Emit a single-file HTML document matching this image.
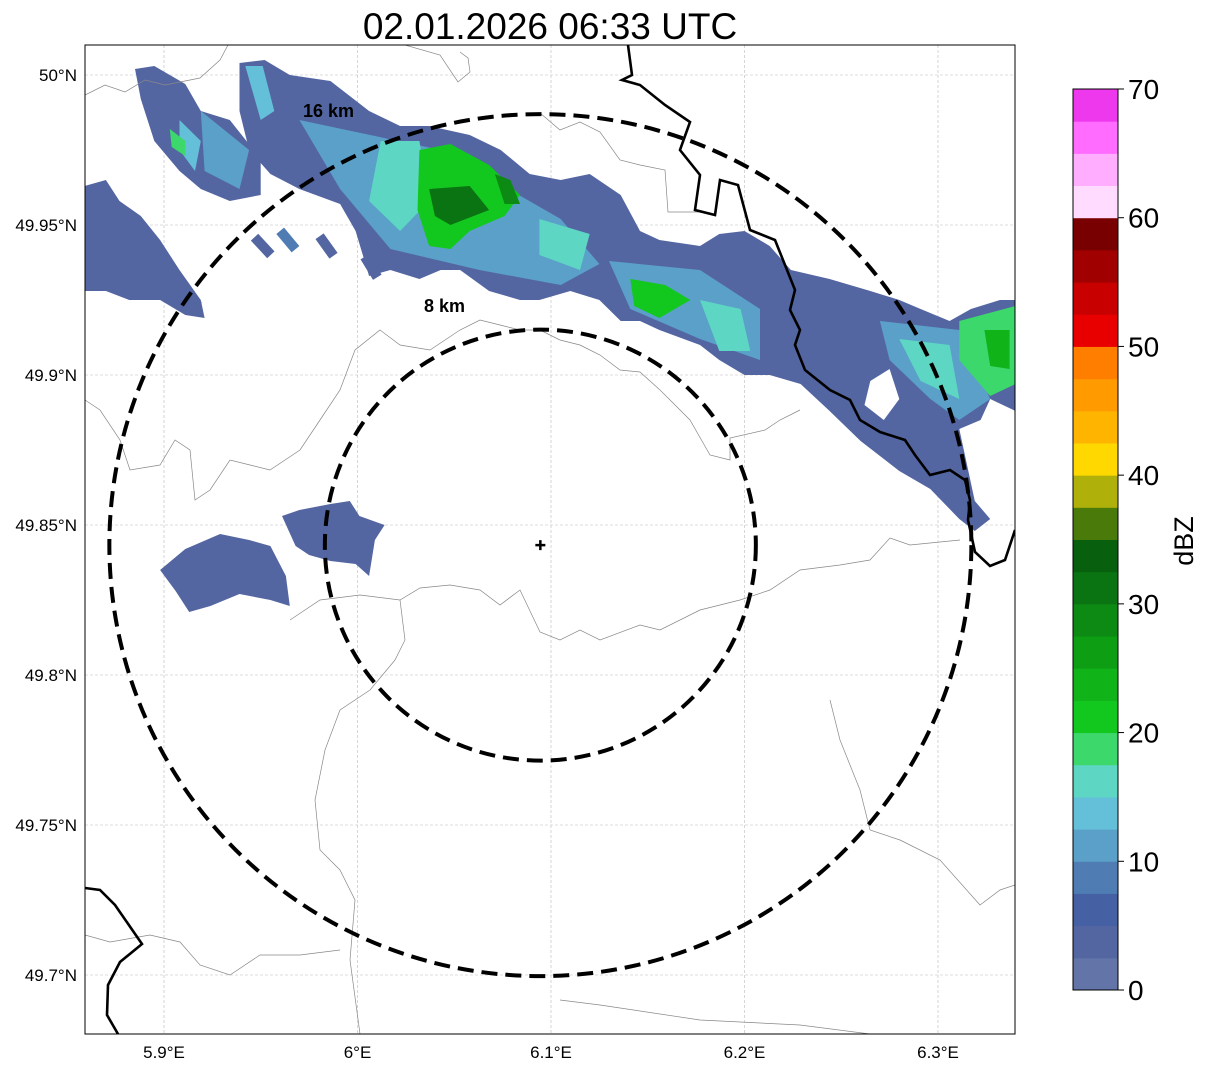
<!DOCTYPE html>
<html><head><meta charset="utf-8">
<style>
html,body{margin:0;padding:0;background:#fff;}
svg{display:block;font-family:"Liberation Sans","DejaVu Sans",sans-serif;}
</style></head>
<body>
<svg id="chart" width="1207" height="1069" viewBox="0 0 1207 1069" xmlns="http://www.w3.org/2000/svg">
<text x="550" y="39" font-size="37" text-anchor="middle" fill="#000">02.01.2026 06:33 UTC</text>
<defs><clipPath id="mapclip"><rect x="85" y="45" width="930" height="989"/></clipPath></defs>
<g id="grid"></g>
<g id="echoes" clip-path="url(#mapclip)"></g>
<g id="geo" clip-path="url(#mapclip)"></g>
<g id="rings"></g>
<rect x="85" y="45" width="930" height="989" fill="none" stroke="#000" stroke-width="1"/>
<g id="xt"></g>
<g id="yt"></g>
<g id="cbar"></g>
<text x="1193" y="541" font-size="27" text-anchor="middle" transform="rotate(-90 1193 541)">dBZ</text>
</svg>
<script>
const NS="http://www.w3.org/2000/svg";
// ---- data ----
const xTicks=[5.9,6.0,6.1,6.2,6.3];
const xTickLabels=["5.9°E","6°E","6.1°E","6.2°E","6.3°E"];
const yTicks=[50.0,49.95,49.9,49.85,49.8,49.75,49.7];
const yTickLabels=["50°N","49.95°N","49.9°N","49.85°N","49.8°N","49.75°N","49.7°N"];
const cbarTicks=[0,10,20,30,40,50,60,70];
const cbarColors=["#6274a8","#5466a2","#4660a4","#4f7cb2","#5aa0c8","#64c0d8","#5ed6c4","#3cd86c","#12c81e","#10b418","#0e9e14","#0c8a14","#0a7412","#08600e","#4a7a0a","#b0b00a","#ffd800","#ffb400","#ff9a00","#ff7e00","#e80000","#c80000","#a00000","#780000","#ffdcff","#ffaeff","#ff6cff","#ee38ee"];
const radarCenter=[6.0945,49.8433];
const ringKm=[8,16];
const echoMain=[[5.939,50.004],[5.952,50.005],[5.965,50.000],[5.986,49.998],[6.006,49.988],[6.022,49.983],[6.037,49.983],[6.058,49.980],[6.074,49.975],[6.089,49.967],[6.105,49.965],[6.120,49.967],[6.136,49.960],[6.146,49.948],[6.156,49.945],[6.177,49.943],[6.187,49.947],[6.200,49.948],[6.213,49.943],[6.224,49.935],[6.244,49.932],[6.265,49.928],[6.280,49.925],[6.291,49.922],[6.306,49.918],[6.317,49.922],[6.332,49.925],[6.340,49.925],[6.340,49.888],[6.327,49.892],[6.322,49.885],[6.311,49.882],[6.319,49.858],[6.327,49.852],[6.319,49.848],[6.311,49.852],[6.296,49.862],[6.280,49.868],[6.260,49.878],[6.244,49.888],[6.229,49.897],[6.213,49.900],[6.200,49.900],[6.187,49.905],[6.177,49.910],[6.156,49.915],[6.146,49.918],[6.136,49.918],[6.125,49.925],[6.110,49.928],[6.094,49.925],[6.084,49.925],[6.068,49.928],[6.053,49.935],[6.043,49.935],[6.032,49.932],[6.017,49.935],[6.006,49.933],[5.999,49.948],[5.991,49.957],[5.970,49.962],[5.955,49.967],[5.944,49.975],[5.939,49.988]];
const echoA=[[5.885,50.002],[5.895,50.003],[5.911,49.997],[5.919,49.988],[5.934,49.985],[5.950,49.972],[5.950,49.960],[5.934,49.958],[5.919,49.962],[5.908,49.968],[5.895,49.978],[5.888,49.992]];
const echoLeft=[[5.859,49.963],[5.870,49.965],[5.877,49.958],[5.888,49.953],[5.898,49.945],[5.908,49.935],[5.919,49.925],[5.921,49.919],[5.911,49.920],[5.898,49.925],[5.882,49.925],[5.870,49.928],[5.859,49.928]];
const echoS1=[[5.898,49.835],[5.911,49.842],[5.929,49.847],[5.944,49.845],[5.955,49.843],[5.963,49.833],[5.965,49.823],[5.955,49.825],[5.939,49.827],[5.924,49.823],[5.913,49.821],[5.906,49.828]];
const echoS2=[[5.961,49.853],[5.970,49.855],[5.986,49.857],[5.996,49.858],[6.001,49.853],[6.014,49.850],[6.009,49.845],[6.006,49.833],[5.999,49.837],[5.986,49.838],[5.975,49.840],[5.968,49.843]];
const echoL1=[[5.919,49.988],[5.944,49.975],[5.939,49.962],[5.921,49.968]];
const echoL2=[[5.970,49.985],[6.043,49.975],[6.105,49.952],[6.125,49.937],[6.105,49.930],[6.063,49.935],[6.017,49.942],[5.991,49.962]];
const echoL2b=[[5.942,50.003],[5.951,50.003],[5.957,49.988],[5.950,49.985]];
const echoL3=[[6.130,49.938],[6.177,49.935],[6.208,49.922],[6.208,49.905],[6.177,49.912],[6.141,49.922]];
const echoL4=[[6.270,49.918],[6.311,49.915],[6.327,49.892],[6.311,49.885],[6.296,49.892],[6.275,49.905]];
const echoC1=[[6.012,49.978],[6.032,49.978],[6.037,49.958],[6.022,49.948],[6.006,49.958]];
const echoC2=[[6.094,49.952],[6.120,49.947],[6.115,49.935],[6.094,49.940]];
const echoC3=[[6.177,49.925],[6.198,49.922],[6.203,49.908],[6.187,49.908]];
const echoC4=[[6.280,49.912],[6.306,49.910],[6.311,49.892],[6.291,49.898]];
const echoC5=[[5.908,49.985],[5.919,49.978],[5.916,49.968],[5.908,49.975]];
const echoG1=[[6.032,49.975],[6.048,49.977],[6.068,49.970],[6.084,49.960],[6.076,49.953],[6.058,49.948],[6.048,49.942],[6.037,49.943],[6.031,49.955]];
const echoG2=[[6.141,49.932],[6.159,49.930],[6.172,49.925],[6.156,49.919],[6.143,49.923]];
const echoG3=[[6.311,49.918],[6.340,49.923],[6.340,49.897],[6.327,49.893],[6.311,49.905]];
const echoG4=[[5.903,49.982],[5.911,49.978],[5.911,49.973],[5.904,49.976]];
const echoD1=[[6.037,49.962],[6.058,49.963],[6.068,49.955],[6.048,49.950],[6.040,49.953]];
const echoD2=[[6.071,49.967],[6.079,49.965],[6.084,49.957],[6.076,49.957]];
const echoD3=[[6.324,49.915],[6.337,49.915],[6.337,49.902],[6.327,49.903]];
const echoHole=[[6.265,49.898],[6.275,49.902],[6.280,49.892],[6.272,49.885],[6.262,49.890]];
const echoRegions=[[3,echoMain],[3,echoA],[3,echoLeft],[3,echoS1],[3,echoS2],[11,echoL1],[11,echoL2],[13,echoL2b],[11,echoL3],[11,echoL4],[16,echoC1],[16,echoC2],[16,echoC3],[16,echoC4],[13,echoC5],[21,echoG1],[21,echoG2],[19,echoG3],[19,echoG4],[31,echoD1],[29,echoD2],[24,echoD3],[-1,echoHole]];
const cellLon=[5.951,5.964,5.984,6.007,5.913];
const cellLat=[49.943,49.945,49.943,49.936,49.925];
const cellDbz=[3,8,3,3,3];

const X=lon=>164+(lon-5.9)*1935;
const Y=lat=>75+(50-lat)*3000;
const CB=v=>990-v*(901/70);
const col=v=>v<0?"#fff":cbarColors[Math.min(27,Math.floor(v/2.5))];
function el(tag,attrs,parent){const e=document.createElementNS(NS,tag);for(const k in attrs)e.setAttribute(k,attrs[k]);parent.appendChild(e);return e;}
const g=id=>document.getElementById(id);

xTicks.forEach((t,i)=>{
  const l=el("line",{x1:X(t),x2:X(t),y1:45,y2:1034,stroke:"#bbb","stroke-width":0.6,"stroke-dasharray":"3,2"},g("grid"));
  
  
  const tx=el("text",{x:X(t),y:1058,"font-size":17,"text-anchor":"middle"},g("xt"));
  tx.textContent=xTickLabels[i];
  
  
});
yTicks.forEach((t,i)=>{
  const l=el("line",{x1:85,x2:1015,y1:Y(t),y2:Y(t),stroke:"#bbb","stroke-width":0.6,"stroke-dasharray":"3,2"},g("grid"));
  
  
  const tx=el("text",{x:77,y:Y(t)+6,"font-size":17,"text-anchor":"end"},g("yt"));
  tx.textContent=yTickLabels[i];
  
  
});

echoRegions.forEach(([v,pts])=>{
  const p=el("polygon",{points:pts.map(q=>X(q[0]).toFixed(1)+","+Y(q[1]).toFixed(1)).join(" "),fill:col(v)},g("echoes"));
  
  
});
cellLon.forEach((lo,i)=>{
  const cx=X(lo),cy=Y(cellLat[i]);
  const ang=Math.atan2(cy-Y(radarCenter[1]),cx-X(radarCenter[0]))*180/Math.PI;
  const r=el("rect",{x:cx-12,y:cy-5,width:24,height:10,fill:col(cellDbz[i]),transform:`rotate(${ang} ${cx} ${cy})`},g("echoes"));
  
  
});

const thin=[
"85,95 105,85 125,92 145,80 165,85 200,78 220,60 228,45",
"405,45 440,55 458,82 470,72 468,58 460,52",
"540,113 560,130 580,122 600,132 620,160 640,165 665,170 668,212 700,212",
"85,400 100,410 120,440 130,470 160,465 175,440 190,450 195,500 210,490 230,460 250,465 270,470 300,450 320,420 340,390 355,350 380,330 400,345 430,350 460,330 480,320 500,325 520,330 540,330 560,340 580,345 600,355 620,370 640,372 660,390 690,420 710,455 730,460 730,438 765,430 780,420 800,410",
"290,620 320,600 360,595 400,600 420,588 450,585 480,590 500,605 520,590 540,632 560,640 580,630 600,640 640,625 660,630 700,610 740,600 770,590 800,570 840,565 870,560 890,538 910,545 960,540",
"400,600 405,640 395,660 370,690 340,710 325,750 315,800 320,850 340,870 355,900 350,960 360,1034",
"830,700 840,740 860,790 870,830 900,840 940,860 980,905 1000,890 1015,885",
"85,935 110,942 150,935 180,942 200,965 230,975 260,955 300,955 340,950",
"560,1000 600,1005 700,1020 800,1025 870,1034"];
thin.forEach(s=>{const p=el("polyline",{points:s,fill:"none",stroke:"#888","stroke-width":0.7},g("geo"));
  
  });
const thick=[
"628,45 632,75 622,80 640,85 665,105 690,122 680,150 700,175 695,210 715,215 720,180 738,185 750,230 775,240 785,265 795,290 790,310 800,330 795,345 805,370 830,390 850,400 860,420 880,432 905,440 915,455 930,475 950,470 965,480 970,500 968,520 975,552 990,566 1005,560 1015,530",
"85,888 100,890 115,905 142,944 120,962 108,985 107,1015 118,1034"];
thick.forEach(s=>{const p=el("polyline",{points:s,fill:"none",stroke:"#000","stroke-width":2.6},g("geo"));
  
  });

const cx0=X(radarCenter[0]),cy0=Y(radarCenter[1]);
const pxPerKm=215.5/8;
ringKm.forEach(k=>{
  const c=el("circle",{cx:cx0,cy:cy0,r:k*pxPerKm,fill:"none",stroke:"#000","stroke-width":4,"stroke-dasharray":"16,8"},g("rings"));
  
  
});
const l16=el("text",{x:303,y:117,"font-size":18,"font-weight":"bold"},g("rings"));l16.textContent="16 km";


const l8=el("text",{x:424,y:312,"font-size":18,"font-weight":"bold"},g("rings"));l8.textContent="8 km";


const cr=el("path",{d:`M${cx0-5},${cy0}H${cx0+5}M${cx0},${cy0-5}V${cy0+5}`,stroke:"#000","stroke-width":2.5},g("rings"));



cbarColors.forEach((c,i)=>{
  const r=el("rect",{x:1073,y:CB((i+1)*2.5),width:45,height:CB(i*2.5)-CB((i+1)*2.5)+0.5,fill:c},g("cbar"));
  
  
});
el("rect",{x:1073,y:89,width:45,height:901,fill:"none",stroke:"#000","stroke-width":1},g("cbar"));
cbarTicks.forEach(t=>{
  el("line",{x1:1118,x2:1124,y1:CB(t),y2:CB(t),stroke:"#000"},g("cbar"));
  const tx=el("text",{x:1128,y:CB(t)+10,"font-size":28},g("cbar"));tx.textContent=t;
  
  
});
</script>
</body></html>
